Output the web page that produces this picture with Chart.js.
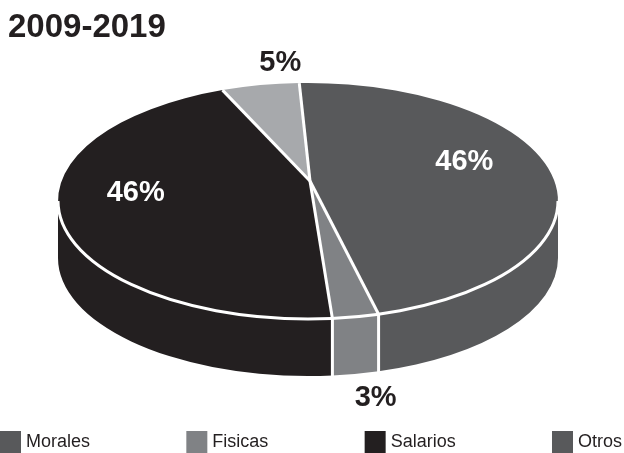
<!DOCTYPE html>
<html>
<head>
<meta charset="utf-8">
<script src="https://cdn.jsdelivr.net/npm/chart.js@4.4.1/dist/chart.umd.min.js"></script>
<style>
  html, body { margin: 0; padding: 0; background: #fff; }
  #wrap { width: 624px; height: 453px; }
</style>
</head>
<body>
<div id="wrap"><canvas id="pie"></canvas></div>
<script>
// data
const categories = ['Morales', 'Fisicas', 'Salarios', 'Otros'];
const shares = [46, 3, 46, 5];
const sliceColors = ['#58595b', '#808285', '#231f20', '#a7a9ac'];
const legendColors = ['#58595b', '#808285', '#231f20', '#58595b'];
const labelColors = ['#ffffff', '#231f20', '#ffffff', '#231f20'];

// look of the fake 3d disc (apex sits a bit above the ellipse centre, like a perspective view)
const disc = { cx: 308, cy: 201, rx: 250, ry: 118, depth: 57, line: 3, apexX: 310, apexY: 181 };

function pt(a, dy) {
    return [disc.cx + disc.rx * Math.cos(a), disc.cy + disc.ry * Math.sin(a) + (dy || 0)];
}

const pie3d = {
    id: 'pie3d',
    beforeDatasetsDraw(chart) {
        const ctx = chart.ctx;
        const arcs = chart.getDatasetMeta(0).data;
        const { cx, cy, rx, ry, depth, apexX, apexY } = disc;
        ctx.save();

        // side wall (front half only)
        arcs.forEach((arc, i) => {
            const s = Math.max(arc.startAngle, 0);
            const e = Math.min(arc.endAngle, Math.PI);
            if (e <= s) return;
            ctx.beginPath();
            ctx.ellipse(cx, cy, rx, ry, 0, s, e);
            const b = pt(e, depth);
            ctx.lineTo(b[0], b[1]);
            ctx.ellipse(cx, cy + depth, rx, ry, 0, e, s, true);
            ctx.closePath();
            ctx.fillStyle = sliceColors[i];
            ctx.fill();
        });
        ctx.strokeStyle = '#fff';
        ctx.lineWidth = disc.line;
        arcs.forEach(arc => {
            const a = arc.endAngle;
            if (Math.sin(a) > 0.02) {
                const t = pt(a), b = pt(a, depth);
                ctx.beginPath();
                ctx.moveTo(t[0], t[1]);
                ctx.lineTo(b[0], b[1] + 2);
                ctx.stroke();
            }
        });

        // top face
        arcs.forEach((arc, i) => {
            ctx.beginPath();
            ctx.moveTo(apexX, apexY);
            ctx.ellipse(cx, cy, rx, ry, 0, arc.startAngle, arc.endAngle);
            ctx.closePath();
            ctx.fillStyle = sliceColors[i];
            ctx.fill();
        });
        arcs.forEach(arc => {
            const p = pt(arc.endAngle);
            ctx.beginPath();
            ctx.moveTo(apexX, apexY);
            ctx.lineTo(p[0], p[1]);
            ctx.stroke();
        });
        ctx.beginPath();
        ctx.ellipse(cx, cy, rx, ry, 0, 0, Math.PI);
        ctx.stroke();

        // percent labels
        ctx.font = 'bold 29px "Liberation Sans", Arial, sans-serif';
        ctx.textAlign = 'center';
        ctx.textBaseline = 'middle';
        arcs.forEach((arc, i) => {
            const m = (arc.startAngle + arc.endAngle) / 2;
            let x, y;
            if (shares[i] < 10) {
                x = cx + rx * Math.cos(m) + 20;
                y = cy + ry * Math.sin(m) + (Math.sin(m) > 0 ? depth + 24 : -22);
            } else {
                x = cx + 0.67 * rx * Math.cos(m) - 9;
                y = cy + 0.67 * ry * Math.sin(m) - 26;
            }
            ctx.fillStyle = labelColors[i];
            ctx.fillText(shares[i] + '%', x, y);
        });

        ctx.restore();
        return false;
    },
    afterDraw(chart) {
        // legend spread across the bottom
        const ctx = chart.ctx;
        const box = 21, gap = 5, y = 431;
        ctx.save();
        ctx.font = '18px "Liberation Sans", Arial, sans-serif';
        ctx.textBaseline = 'middle';
        const widths = categories.map(c => box + gap + ctx.measureText(c).width);
        const total = widths.reduce((a, b) => a + b, 0);
        const space = (chart.width - 2 - total) / (categories.length - 1);
        let x = 0;
        categories.forEach((c, i) => {
            ctx.fillStyle = legendColors[i];
            ctx.fillRect(x, y, box, box + 1);
            ctx.fillStyle = '#231f20';
            ctx.fillText(c, x + box + gap, y + box / 2 + 1);
            x += widths[i] + space;
        });
        ctx.restore();
    }
};

new Chart(document.getElementById('pie'), {
    type: 'pie',
    data: {
        labels: categories,
        datasets: [{
            data: shares,
            backgroundColor: sliceColors,
            borderWidth: 0
        }]
    },
    options: {
        responsive: true,
        maintainAspectRatio: false,
        animation: false,
        rotation: -2,
        layout: { padding: { left: 8, top: 8, bottom: 40 } },
        plugins: {
            legend: { display: false },
            tooltip: { enabled: false },
            title: {
                display: true,
                text: '2009-2019',
                align: 'start',
                color: '#231f20',
                font: { family: '"Liberation Sans", Arial, sans-serif', size: 33, weight: 'bold' },
                padding: { top: 0, bottom: 0 }
            }
        }
    },
    plugins: [pie3d]
});
</script>
</body>
</html>
